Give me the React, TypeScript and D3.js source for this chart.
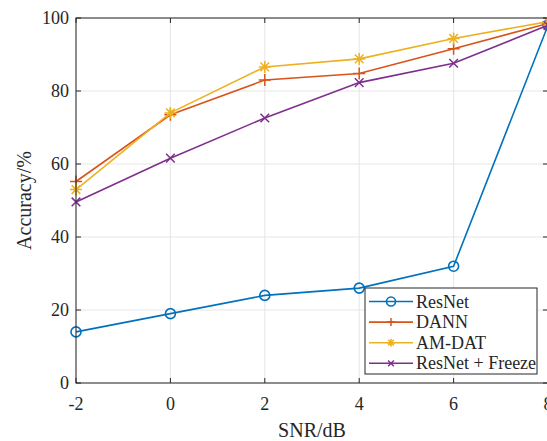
import React from 'react';
import * as d3 from 'd3';

const snr = [-2, 0, 2, 4, 6, 8];
const resnet = [14, 19, 24, 26, 32, 98];
const dann = [55.2, 73.5, 83, 84.8, 91.6, 98.5];
const amdat = [53, 74, 86.6, 88.8, 94.4, 99];
const freeze = [49.6, 61.6, 72.6, 82.3, 87.6, 98];
const xTicks = [-2, 0, 2, 4, 6, 8];
const yTicks = [0, 20, 40, 60, 80, 100];

const W = 547, H = 441;
const margin = { top: 18, right: -1, bottom: 58, left: 76 };

export default function App() {
  const ref = React.useRef<SVGSVGElement>(null);

  React.useEffect(() => {
    const svg = d3.select(ref.current);
    svg.selectAll('*').remove();
    const x = d3.scaleLinear().domain([-2, 8]).range([margin.left, W - margin.right]);
    const y = d3.scaleLinear().domain([0, 100]).range([H - margin.bottom, margin.top]);
    const font = '"Liberation Serif", "Times New Roman", serif';
    const axisCol = '#262626';

    svg.append('rect').attr('width', W).attr('height', H).attr('fill', 'white');

    // grid
    const g = svg.append('g');
    xTicks.forEach(t => g.append('line').attr('x1', x(t)).attr('x2', x(t))
      .attr('y1', y(0)).attr('y2', y(100)).attr('stroke', '#e6e6e6').attr('stroke-width', 1));
    yTicks.forEach(t => g.append('line').attr('x1', x(-2)).attr('x2', x(8))
      .attr('y1', y(t)).attr('y2', y(t)).attr('stroke', '#e6e6e6').attr('stroke-width', 1));

    // series
    const series = [
      { name: 'ResNet', vals: resnet, color: '#0072BD', marker: 'o' },
      { name: 'DANN', vals: dann, color: '#D95319', marker: '+' },
      { name: 'AM-DAT', vals: amdat, color: '#EDB120', marker: '*' },
      { name: 'ResNet + Freeze', vals: freeze, color: '#7E2F8E', marker: 'x' },
    ];
    const line = d3.line<number>().x((_, i) => x(snr[i])).y(d => y(d));

    const drawMarker = (sel: any, m: string, cx: number, cy: number, c: string, s: number) => {
      if (m === 'o') {
        sel.append('circle').attr('cx', cx).attr('cy', cy).attr('r', s).attr('fill', 'none')
          .attr('stroke', c).attr('stroke-width', 1.6);
      } else {
        const p = d3.path();
        if (m === '+' || m === '*') {
          p.moveTo(cx - s, cy); p.lineTo(cx + s, cy);
          p.moveTo(cx, cy - s); p.lineTo(cx, cy + s);
        }
        if (m === 'x' || m === '*') {
          const k = s * 0.72;
          p.moveTo(cx - k, cy - k); p.lineTo(cx + k, cy + k);
          p.moveTo(cx - k, cy + k); p.lineTo(cx + k, cy - k);
        }
        sel.append('path').attr('d', p.toString()).attr('stroke', c).attr('stroke-width', 1.5).attr('fill', 'none');
      }
    };

    const plot = svg.append('g');
    series.forEach(s => {
      plot.append('path').attr('d', line(s.vals)).attr('fill', 'none')
        .attr('stroke', s.color).attr('stroke-width', 1.6);
      s.vals.forEach((v, i) => drawMarker(plot, s.marker, x(snr[i]), y(v), s.color, s.marker === 'o' ? 5 : 6));
    });

    // axes box and ticks
    const ax = svg.append('g');
    ax.append('rect').attr('x', x(-2)).attr('y', y(100)).attr('width', x(8) - x(-2)).attr('height', y(0) - y(100))
      .attr('fill', 'none').attr('stroke', axisCol).attr('stroke-width', 1);
    xTicks.forEach(t => {
      ax.append('line').attr('x1', x(t)).attr('x2', x(t)).attr('y1', y(0)).attr('y2', y(0) - 5).attr('stroke', axisCol);
      ax.append('line').attr('x1', x(t)).attr('x2', x(t)).attr('y1', y(100)).attr('y2', y(100) + 5).attr('stroke', axisCol);
      ax.append('text').attr('x', x(t)).attr('y', y(0) + 27).attr('text-anchor', 'middle')
        .attr('font-family', font).attr('font-size', 18).attr('fill', axisCol).text(String(t));
    });
    yTicks.forEach(t => {
      ax.append('line').attr('x1', x(-2)).attr('x2', x(-2) + 5).attr('y1', y(t)).attr('y2', y(t)).attr('stroke', axisCol);
      ax.append('line').attr('x1', x(8)).attr('x2', x(8) - 5).attr('y1', y(t)).attr('y2', y(t)).attr('stroke', axisCol);
      ax.append('text').attr('x', x(-2) - 7).attr('y', y(t) + 6).attr('text-anchor', 'end')
        .attr('font-family', font).attr('font-size', 18).attr('fill', axisCol).text(String(t));
    });

    ax.append('text').attr('x', 312).attr('y', 437).attr('text-anchor', 'middle')
      .attr('font-family', font).attr('font-size', 20).attr('fill', axisCol).text('SNR/dB');
    ax.append('text').attr('transform', `translate(31,${(y(0) + y(100)) / 2}) rotate(-90)`)
      .attr('text-anchor', 'middle').attr('font-family', font).attr('font-size', 20).attr('fill', axisCol).text('Accuracy/%');

    // legend
    const lg = svg.append('g');
    lg.append('rect').attr('x', 365).attr('y', 288).attr('width', 172).attr('height', 86)
      .attr('fill', 'white').attr('stroke', axisCol).attr('stroke-width', 1);
    series.forEach((s, i) => {
      const ly = 301.5 + i * 20.6;
      lg.append('line').attr('x1', 369).attr('x2', 413).attr('y1', ly).attr('y2', ly)
        .attr('stroke', s.color).attr('stroke-width', 1.6);
      drawMarker(lg, s.marker, 391, ly, s.color, s.marker === 'o' ? 4.5 : 4);
      lg.append('text').attr('x', 416).attr('y', ly + 6).attr('font-family', font).attr('font-size', 18)
        .attr('fill', axisCol).text(s.name);
    });
  }, []);

  return <svg ref={ref} width={W} height={H} style={{ position: 'absolute', left: 0, top: 0 }} />;
}
